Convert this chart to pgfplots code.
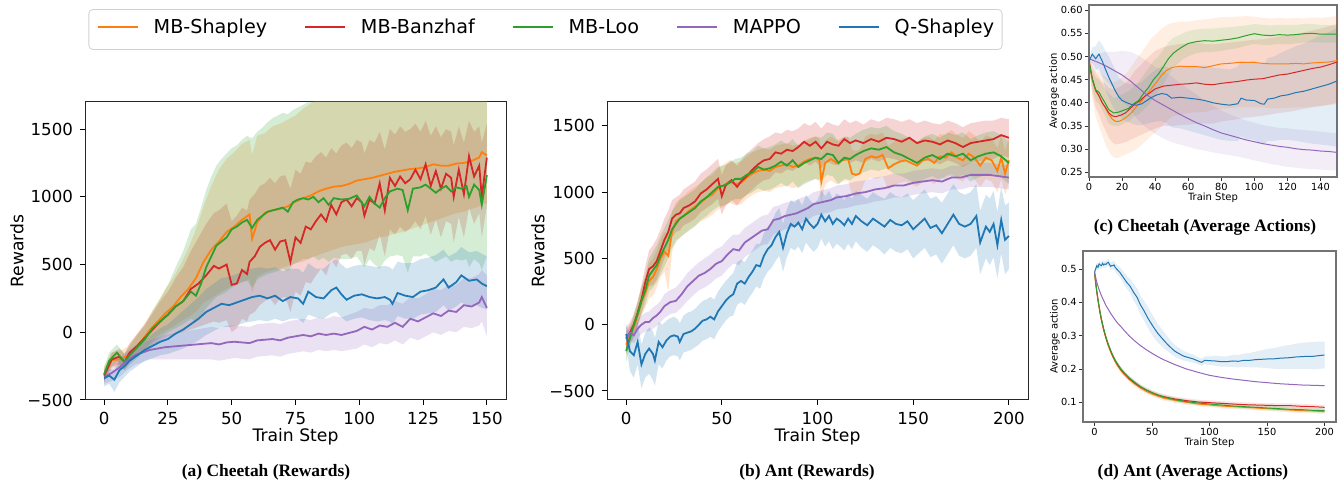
\documentclass[border=0pt]{standalone}
\usepackage{fontspec}
\setmainfont{DejaVu Sans}
\newfontfamily\capfont{Liberation Serif}
\usepackage{pgfplots}
\usepackage{pgfplotstable}
\pgfplotsset{compat=1.18}
\usepgfplotslibrary{fillbetween}

\definecolor{cBl}{HTML}{1F77B4}
\definecolor{cOr}{HTML}{FF7F0E}
\definecolor{cGr}{HTML}{2CA02C}
\definecolor{cRd}{HTML}{D62728}
\definecolor{cPu}{HTML}{9467BD}

% ---------- (a) Cheetah rewards ----------
\pgfplotstableread{
x m lo hi
0 -315 -370 -250
3 -205 -260 -150
6 -200 -260 -140
9 -175 -240 -110
12 -120 -190 -40
15 -55 -140 40
18 20 -80 130
21 80 -30 220
24 140 10 320
27 190 40 400
30 260 80 500
33 320 110 620
36 400 150 760
39 520 220 930
42 610 250 1080
45 670 290 1200
48 740 320 1280
51 780 350 1330
54 830 370 1390
57 870 390 1420
58 690 290 1310
60 810 410 1450
63 880 440 1470
66 900 460 1520
69 910 470 1540
72 930 490 1570
75 965 510 1600
78 990 520 1650
81 1010 550 1690
84 1040 570 1730
87 1060 590 1770
90 1075 610 1800
93 1080 630 1800
96 1095 640 1800
99 1120 650 1800
102 1130 660 1800
105 1140 680 1800
108 1155 700 1800
111 1170 710 1800
114 1185 730 1800
117 1195 740 1800
120 1205 760 1800
123 1210 780 1800
126 1220 800 1800
129 1240 820 1800
132 1230 840 1800
135 1230 860 1800
138 1245 880 1800
141 1250 890 1800
144 1265 910 1800
147 1290 930 1800
148 1330 950 1800
150 1305 950 1800
}\aOr
\pgfplotstableread{
x m lo hi
0 -320 -360 -280
3 -200 -250 -150
6 -180 -240 -120
8 -220 -280 -160
10 -150 -220 -80
13 -100 -180 -10
16 -40 -130 60
19 20 -90 140
22 80 -60 230
25 130 -30 300
28 190 -10 400
31 230 0 480
34 320 20 600
37 360 40 700
40 420 60 800
43 490 80 880
45 470 70 900
48 500 90 950
50 350 0 820
52 360 30 860
54 460 100 920
56 430 80 900
57 520 130 980
59 560 150 1020
61 630 200 1080
63 660 230 1100
65 680 250 1140
67 610 200 1100
69 670 250 1150
71 680 260 1160
73 520 150 1060
75 700 300 1200
77 660 270 1170
79 780 370 1260
81 760 360 1250
83 820 420 1300
85 870 470 1330
87 820 420 1290
89 940 530 1360
91 870 480 1320
93 960 570 1380
95 980 580 1400
97 930 540 1360
99 990 600 1420
101 960 600 1400
102 860 500 1320
104 980 620 1420
106 950 600 1400
108 1100 720 1480
110 900 560 1350
112 1140 760 1500
114 1080 720 1460
116 1150 780 1520
118 1100 740 1480
120 1130 770 1500
122 1200 820 1540
124 1130 760 1480
126 1240 860 1560
128 1080 720 1450
130 1190 830 1520
132 1060 700 1440
134 1170 820 1500
136 1140 800 1480
137 1000 660 1380
139 1200 850 1520
141 1020 700 1400
143 1300 920 1560
145 1150 800 1480
147 1230 880 1520
148 1000 700 1400
150 1290 930 1540
}\aRd
\pgfplotstableread{
x m lo hi
0 -310 -360 -260
2 -210 -270 -150
5 -150 -210 -90
8 -220 -280 -160
10 -170 -240 -100
13 -110 -190 -20
16 -50 -140 50
19 30 -80 160
22 80 -40 250
25 130 0 350
28 190 30 480
31 230 60 600
34 300 100 760
36 270 80 800
38 360 120 920
40 480 180 1050
42 560 220 1150
44 640 260 1230
46 670 280 1280
48 700 300 1320
50 760 330 1360
52 780 350 1380
54 810 370 1420
56 830 380 1450
58 770 330 1430
60 830 390 1480
62 860 410 1510
64 890 430 1550
66 900 440 1580
68 910 450 1600
70 920 470 1620
72 890 450 1610
74 960 500 1640
76 980 520 1660
78 990 540 1680
80 980 540 1700
82 1000 560 1720
84 960 530 1740
86 990 550 1760
88 940 520 1780
90 990 550 1800
93 980 540 1800
96 985 540 1800
99 1010 560 1800
102 930 480 1800
104 1000 540 1800
106 950 500 1800
108 920 470 1800
110 990 530 1800
112 1040 560 1800
115 1060 570 1800
117 1050 560 1800
119 900 440 1800
121 1060 560 1800
124 1070 560 1800
126 1090 580 1800
128 1060 550 1800
130 1030 520 1800
132 1060 540 1800
134 1080 560 1800
136 1040 520 1800
138 1070 540 1800
140 1060 530 1800
142 1080 540 1800
143 1000 480 1800
145 1090 540 1800
147 1050 510 1800
148 940 460 1800
150 1160 560 1800
}\aGr
\pgfplotstableread{
x m lo hi
0 -340 -400 -290
2 -320 -380 -270
4 -350 -440 -280
6 -280 -370 -210
8 -250 -330 -180
10 -210 -290 -140
13 -170 -250 -100
16 -130 -210 -60
19 -100 -190 -10
22 -70 -170 30
25 -50 -160 60
28 -10 -140 110
31 20 -120 160
34 60 -90 210
37 100 -60 260
40 150 -20 320
43 180 10 360
46 210 40 400
49 200 40 410
52 220 50 430
55 240 70 460
58 260 80 470
61 270 90 480
64 250 80 470
67 270 100 480
70 230 80 450
73 260 100 470
76 250 100 470
78 210 70 440
80 300 130 510
83 260 110 470
86 250 100 470
89 310 140 520
91 330 150 540
93 280 110 500
95 240 80 470
98 270 100 490
101 280 110 500
104 260 90 490
107 250 80 480
110 260 90 490
112 240 80 480
113 210 60 460
115 290 120 520
118 270 100 510
121 260 100 510
124 300 130 540
127 310 140 550
130 330 150 570
133 390 200 610
135 330 160 560
138 370 190 590
140 420 220 630
143 380 190 590
146 390 200 600
148 360 180 580
150 340 170 560
}\aBl
\pgfplotstableread{
x m lo hi
0 -330 -380 -280
3 -300 -360 -240
6 -260 -330 -190
9 -210 -280 -140
12 -170 -240 -100
15 -150 -220 -80
18 -130 -200 -60
21 -120 -200 -40
24 -110 -200 -20
27 -105 -200 -10
30 -100 -200 0
33 -95 -200 10
36 -90 -200 20
39 -85 -200 30
42 -80 -200 40
45 -90 -210 30
48 -75 -200 50
51 -70 -190 50
54 -75 -195 45
57 -80 -200 40
60 -60 -180 60
63 -55 -175 65
66 -50 -170 70
69 -60 -180 60
72 -40 -160 80
75 -30 -150 90
78 -20 -140 100
81 -30 -150 90
84 -10 -130 110
87 -20 -140 100
90 -10 -130 120
93 -20 -140 110
96 -5 -130 130
99 10 -120 150
102 40 -90 180
105 20 -110 170
108 50 -80 200
111 40 -90 200
114 70 -60 230
117 40 -90 210
120 100 -40 260
123 80 -60 250
126 110 -30 280
129 140 0 320
132 120 -20 310
135 160 10 350
138 150 0 350
141 200 40 400
144 190 30 400
147 220 50 430
148 260 80 460
150 180 -30 420
}\aPu

% ---------- (b) Ant rewards ----------
\pgfplotstableread{
x m lo hi
0 -100 -180 -20
2 -60 -130 20
4 0 -70 80
6 90 0 180
8 190 90 300
10 320 200 440
12 420 290 560
14 440 300 600
16 480 340 650
18 560 420 720
20 640 500 800
22 700 560 860
24 800 660 940
26 830 700 960
28 840 710 980
30 880 750 1020
33 900 770 1050
36 930 800 1080
39 990 850 1140
42 1020 880 1170
45 1060 910 1210
48 1100 950 1250
50 970 830 1130
52 1050 900 1200
55 1090 940 1240
58 1040 900 1200
60 1080 940 1240
63 1120 980 1290
66 1170 1020 1330
69 1210 1060 1370
72 1240 1090 1400
75 1250 1100 1420
78 1300 1150 1450
81 1290 1140 1440
84 1320 1170 1470
87 1310 1160 1460
90 1340 1190 1480
93 1380 1230 1520
96 1350 1200 1500
99 1380 1230 1530
102 1330 1180 1480
105 1380 1230 1530
108 1360 1210 1510
111 1350 1200 1500
114 1400 1250 1550
117 1370 1220 1520
120 1390 1240 1540
124 1370 1220 1510
128 1400 1250 1550
132 1380 1230 1530
136 1410 1260 1560
140 1400 1250 1550
144 1380 1230 1530
148 1410 1260 1550
152 1370 1220 1520
156 1390 1240 1540
160 1380 1230 1520
164 1360 1210 1510
168 1390 1240 1540
172 1370 1220 1520
176 1340 1190 1490
180 1370 1220 1520
184 1380 1230 1530
188 1390 1240 1540
192 1400 1250 1540
196 1430 1280 1560
200 1410 1260 1550
}\bRd
\pgfplotstableread{
x m lo hi
0 -200 -280 -120
2 -100 -170 -30
4 0 -80 80
6 80 0 170
8 180 80 280
10 260 150 380
12 370 250 500
14 410 280 550
16 450 320 600
18 520 380 670
20 580 440 730
22 640 500 790
24 720 580 860
26 760 620 900
28 800 660 940
30 820 680 960
33 850 710 990
36 880 740 1020
39 930 790 1070
42 960 820 1110
45 1000 860 1150
48 1040 890 1190
51 1050 900 1200
54 1070 920 1220
57 1100 950 1250
60 1100 950 1260
63 1130 980 1290
66 1150 1000 1310
69 1190 1030 1350
72 1170 1010 1330
75 1180 1020 1340
78 1200 1040 1360
81 1230 1070 1390
84 1200 1040 1360
87 1240 1080 1400
90 1190 1030 1350
93 1220 1060 1380
96 1240 1080 1400
99 1260 1100 1420
102 1250 1090 1410
105 1290 1130 1450
108 1280 1120 1440
111 1220 1060 1380
114 1260 1100 1420
117 1250 1090 1410
120 1280 1120 1440
124 1310 1150 1470
128 1330 1170 1490
132 1320 1160 1480
136 1340 1180 1500
140 1300 1140 1460
144 1280 1120 1440
148 1250 1090 1410
152 1220 1060 1380
156 1260 1100 1420
160 1280 1120 1440
164 1250 1090 1410
168 1290 1130 1450
172 1270 1110 1430
176 1290 1130 1450
180 1240 1080 1400
184 1270 1110 1430
188 1290 1130 1450
192 1300 1140 1460
196 1270 1110 1430
200 1220 1060 1380
}\bGr
\pgfplotstableread{
x m lo hi
0 -150 -230 -70
2 -80 -150 -10
4 -20 -100 60
6 70 -20 160
8 170 70 280
10 240 130 360
12 330 200 460
14 360 220 500
16 420 280 560
18 500 360 640
20 550 400 700
22 520 250 680
24 700 550 850
26 780 640 920
28 800 650 950
30 820 680 970
33 860 720 1010
36 890 750 1040
39 920 780 1070
42 960 800 1110
45 980 830 1130
48 1030 870 1180
51 1050 890 1210
54 1080 920 1240
57 1060 900 1220
60 1070 910 1230
63 1110 950 1270
66 1140 980 1300
69 1160 1000 1320
72 1170 1010 1330
75 1160 1000 1320
78 1190 1030 1350
81 1200 1040 1360
84 1210 1050 1370
87 1190 1030 1350
90 1200 1040 1360
93 1230 1070 1390
96 1250 1090 1410
99 1260 1100 1420
101 1240 1080 1400
102 1080 920 1280
104 1220 1060 1390
107 1250 1090 1420
110 1220 1060 1390
113 1240 1080 1410
116 1250 1090 1420
118 1140 980 1320
120 1130 970 1310
122 1140 980 1320
125 1250 1090 1420
128 1270 1110 1440
131 1260 1100 1430
134 1280 1120 1450
137 1180 1020 1350
140 1210 1050 1380
143 1230 1070 1400
146 1240 1080 1410
149 1220 1060 1390
152 1200 1040 1370
155 1240 1080 1410
158 1250 1090 1420
161 1220 1060 1390
164 1270 1110 1440
167 1260 1100 1430
170 1300 1140 1470
173 1260 1100 1430
176 1240 1080 1410
179 1290 1130 1460
182 1260 1100 1430
185 1200 1040 1370
188 1260 1100 1430
191 1240 1080 1410
194 1160 1000 1330
196 1260 1100 1430
198 1140 980 1310
200 1240 1080 1410
}\bOr
\pgfplotstableread{
x m lo hi
0 -110 -170 -50
2 -60 -120 0
4 -80 -140 -20
6 -30 -100 40
8 0 -70 70
10 20 -50 90
12 20 -50 100
14 50 -30 130
16 70 -10 150
18 100 20 180
20 140 50 230
23 170 80 260
26 180 90 280
29 230 130 330
32 290 180 390
35 330 220 430
38 370 260 470
41 390 280 500
44 420 310 530
47 460 350 570
50 480 370 590
53 530 420 640
56 570 460 680
59 560 450 680
62 620 510 730
65 650 540 760
68 680 570 790
71 710 600 820
74 720 610 830
77 790 680 890
80 800 700 900
83 820 720 920
86 830 730 930
89 840 740 940
92 860 770 960
95 880 790 970
98 910 820 1000
101 920 830 1010
104 930 840 1020
107 940 850 1030
110 960 870 1050
115 970 880 1060
120 990 900 1080
125 1000 910 1090
130 1020 930 1110
135 1030 940 1120
140 1050 960 1140
145 1050 960 1140
150 1070 980 1160
155 1080 990 1170
160 1090 1000 1180
165 1080 990 1170
170 1110 1020 1200
175 1110 1020 1200
180 1130 1040 1220
185 1130 1040 1220
190 1130 1040 1220
195 1120 1030 1210
200 1110 1020 1200
}\bPu
\pgfplotstableread{
x m lo hi
0 -70 -150 0
2 -200 -350 -60
4 -230 -400 -80
6 -130 -300 20
8 -300 -480 -150
10 -220 -400 -60
12 -180 -370 -20
14 -220 -420 -50
15 -270 -460 -100
17 -130 -300 20
19 -170 -330 0
21 -120 -270 30
23 -90 -240 50
25 -80 -230 60
27 -90 -240 40
28 -130 -270 10
30 -70 -210 70
32 -60 -200 90
34 -50 -190 100
36 -30 -170 120
38 0 -150 150
40 30 -120 180
42 40 -110 190
44 60 -90 210
46 40 -110 190
48 100 -50 250
50 140 -10 290
52 180 30 330
54 210 60 360
56 230 70 390
58 310 150 470
60 330 170 490
62 310 150 470
64 360 200 520
66 400 240 560
68 450 290 610
70 440 270 610
72 520 350 690
74 570 400 740
76 600 430 770
78 660 480 840
80 700 520 880
82 580 400 760
84 690 510 870
86 760 580 940
88 740 560 920
90 770 590 950
92 720 540 900
94 800 620 980
96 760 580 940
98 730 550 910
100 760 580 940
102 830 650 1010
104 780 590 970
106 820 630 1010
108 760 570 950
110 800 610 990
112 780 590 970
114 750 560 940
116 800 610 990
118 760 570 950
120 820 630 1010
123 780 580 980
126 750 550 950
129 800 600 1000
132 770 570 970
135 740 530 950
138 790 580 1000
141 760 550 970
144 750 540 960
147 780 570 990
150 720 500 940
153 760 540 980
156 800 580 1020
159 730 510 950
162 750 530 970
165 690 460 920
168 760 530 990
171 830 600 1060
174 760 520 1000
177 740 500 980
180 760 520 1000
183 820 580 1060
185 620 380 860
188 740 500 980
190 700 450 950
192 760 510 1010
194 600 350 850
196 790 540 1040
198 640 380 900
200 670 420 920
}\bBl

% ---------- (c) Cheetah average action ----------
\pgfplotstableread{
x m lo hi
0 0.490 0.485 0.495
2 0.450 0.430 0.470
4 0.428 0.405 0.455
6 0.423 0.398 0.450
8 0.410 0.385 0.440
10 0.398 0.370 0.430
12 0.385 0.355 0.420
15 0.378 0.350 0.410
18 0.380 0.350 0.415
21 0.384 0.355 0.420
24 0.388 0.360 0.425
27 0.398 0.370 0.435
30 0.405 0.375 0.445
33 0.420 0.385 0.460
36 0.433 0.395 0.475
39 0.450 0.410 0.490
42 0.462 0.425 0.500
45 0.478 0.440 0.515
48 0.495 0.460 0.530
51 0.507 0.475 0.540
54 0.515 0.485 0.545
57 0.522 0.495 0.550
60 0.528 0.500 0.555
65 0.532 0.507 0.558
70 0.534 0.510 0.560
75 0.533 0.510 0.560
80 0.535 0.512 0.562
85 0.537 0.515 0.563
90 0.540 0.518 0.565
95 0.545 0.523 0.567
100 0.549 0.527 0.570
105 0.546 0.525 0.568
110 0.545 0.525 0.567
115 0.547 0.527 0.568
120 0.546 0.526 0.568
125 0.547 0.528 0.568
130 0.549 0.530 0.570
135 0.550 0.531 0.570
140 0.548 0.530 0.568
145 0.548 0.530 0.568
150 0.548 0.530 0.567
}\cGr
\pgfplotstableread{
x m lo hi
0 0.490 0.485 0.495
2 0.450 0.410 0.480
4 0.425 0.370 0.470
6 0.415 0.350 0.465
8 0.400 0.330 0.460
10 0.388 0.310 0.455
12 0.375 0.295 0.450
14 0.365 0.285 0.445
16 0.360 0.280 0.445
18 0.360 0.282 0.450
20 0.363 0.285 0.455
23 0.370 0.290 0.465
26 0.380 0.295 0.480
29 0.393 0.300 0.495
32 0.405 0.310 0.510
35 0.418 0.320 0.525
38 0.432 0.330 0.540
41 0.445 0.340 0.550
44 0.460 0.350 0.560
47 0.470 0.360 0.568
50 0.476 0.370 0.572
55 0.479 0.375 0.575
60 0.478 0.378 0.575
65 0.478 0.380 0.578
70 0.476 0.380 0.580
75 0.480 0.385 0.582
80 0.484 0.387 0.585
85 0.485 0.388 0.585
90 0.487 0.390 0.586
95 0.487 0.390 0.587
100 0.487 0.390 0.586
105 0.485 0.390 0.583
110 0.484 0.388 0.582
115 0.484 0.388 0.583
120 0.484 0.389 0.582
125 0.485 0.390 0.583
130 0.484 0.390 0.582
135 0.486 0.392 0.584
140 0.487 0.393 0.583
145 0.488 0.395 0.585
150 0.491 0.397 0.587
}\cOr
\pgfplotstableread{
x m lo hi
0 0.490 0.485 0.495
2 0.452 0.420 0.480
4 0.428 0.390 0.465
6 0.415 0.375 0.455
8 0.400 0.355 0.445
10 0.390 0.340 0.440
12 0.378 0.325 0.432
14 0.372 0.315 0.430
16 0.370 0.310 0.430
19 0.373 0.312 0.435
22 0.378 0.315 0.442
25 0.388 0.320 0.455
28 0.398 0.325 0.470
31 0.405 0.330 0.480
34 0.415 0.335 0.492
37 0.422 0.340 0.502
40 0.430 0.345 0.512
45 0.436 0.350 0.520
50 0.438 0.350 0.524
55 0.440 0.352 0.527
60 0.441 0.353 0.528
65 0.443 0.355 0.530
70 0.440 0.355 0.527
75 0.439 0.355 0.526
80 0.442 0.360 0.528
85 0.444 0.362 0.530
90 0.446 0.365 0.532
95 0.449 0.368 0.534
100 0.451 0.370 0.536
105 0.452 0.372 0.537
110 0.456 0.375 0.540
115 0.460 0.378 0.543
120 0.462 0.380 0.545
125 0.466 0.383 0.548
130 0.470 0.387 0.552
135 0.474 0.390 0.556
140 0.477 0.393 0.560
145 0.482 0.396 0.565
150 0.488 0.400 0.570
}\cRd
\pgfplotstableread{
x m lo hi
0 0.490 0.485 0.495
2 0.505 0.485 0.520
4 0.495 0.470 0.522
6 0.505 0.475 0.535
8 0.490 0.455 0.525
10 0.472 0.430 0.512
12 0.455 0.410 0.500
14 0.440 0.395 0.485
16 0.425 0.382 0.470
18 0.413 0.372 0.455
20 0.405 0.365 0.447
23 0.400 0.360 0.442
26 0.396 0.355 0.440
29 0.395 0.352 0.440
32 0.398 0.352 0.445
35 0.405 0.355 0.455
38 0.412 0.358 0.465
41 0.417 0.360 0.472
44 0.420 0.360 0.478
47 0.418 0.356 0.478
50 0.410 0.347 0.472
55 0.412 0.345 0.478
60 0.410 0.340 0.480
65 0.408 0.335 0.480
70 0.405 0.330 0.480
75 0.400 0.325 0.476
80 0.397 0.320 0.474
85 0.395 0.318 0.472
90 0.398 0.318 0.478
92 0.410 0.328 0.490
95 0.406 0.322 0.488
100 0.405 0.320 0.490
104 0.398 0.312 0.484
106 0.397 0.310 0.484
108 0.408 0.318 0.496
112 0.410 0.318 0.500
116 0.415 0.320 0.508
120 0.417 0.320 0.514
125 0.422 0.318 0.522
130 0.425 0.315 0.528
135 0.430 0.312 0.536
140 0.435 0.310 0.545
145 0.440 0.308 0.552
150 0.447 0.305 0.562
}\cBl
\pgfplotstableread{
x m lo hi
0 0.495 0.492 0.498
5 0.488 0.470 0.505
10 0.480 0.450 0.510
15 0.470 0.430 0.510
20 0.460 0.405 0.512
25 0.447 0.385 0.510
30 0.432 0.362 0.502
35 0.417 0.345 0.490
40 0.405 0.333 0.478
45 0.395 0.323 0.468
50 0.385 0.315 0.457
55 0.375 0.310 0.442
60 0.366 0.305 0.430
65 0.357 0.300 0.418
70 0.350 0.297 0.405
75 0.342 0.293 0.394
80 0.335 0.290 0.384
85 0.330 0.287 0.375
90 0.325 0.284 0.368
95 0.320 0.280 0.362
100 0.316 0.276 0.357
105 0.312 0.272 0.352
110 0.309 0.268 0.349
115 0.306 0.265 0.346
120 0.304 0.262 0.345
125 0.301 0.260 0.343
130 0.299 0.258 0.341
135 0.298 0.257 0.340
140 0.296 0.256 0.338
145 0.295 0.255 0.336
150 0.293 0.254 0.334
}\cPu

% ---------- (d) Ant average action ----------
\pgfplotstableread{
x r rl rh g gl gh o ol oh p
0 0.490 0.486 0.494 0.490 0.486 0.494 0.488 0.484 0.492 0.490
1 0.460 0.455 0.465 0.461 0.456 0.466 0.458 0.452 0.464 0.475
2 0.432 0.426 0.438 0.433 0.427 0.439 0.430 0.423 0.437 0.460
3 0.408 0.401 0.415 0.409 0.402 0.416 0.406 0.398 0.414 0.449
4 0.386 0.379 0.393 0.388 0.381 0.395 0.384 0.376 0.392 0.438
5 0.366 0.359 0.373 0.368 0.361 0.375 0.364 0.356 0.372 0.429
6 0.348 0.341 0.355 0.350 0.343 0.357 0.346 0.338 0.354 0.420
8 0.318 0.311 0.325 0.320 0.313 0.327 0.316 0.308 0.324 0.405
10 0.293 0.286 0.300 0.295 0.288 0.302 0.291 0.283 0.299 0.390
12 0.272 0.265 0.279 0.274 0.267 0.281 0.270 0.262 0.278 0.379
14 0.254 0.247 0.261 0.256 0.249 0.263 0.252 0.244 0.260 0.367
16 0.238 0.231 0.245 0.240 0.233 0.247 0.236 0.228 0.244 0.357
18 0.225 0.218 0.232 0.226 0.219 0.233 0.222 0.214 0.230 0.347
20 0.213 0.206 0.220 0.215 0.208 0.222 0.210 0.202 0.218 0.338
23 0.198 0.191 0.205 0.200 0.193 0.207 0.195 0.187 0.203 0.327
26 0.186 0.179 0.193 0.188 0.181 0.195 0.183 0.175 0.191 0.315
30 0.172 0.165 0.179 0.174 0.167 0.181 0.169 0.161 0.177 0.300
35 0.158 0.151 0.165 0.160 0.153 0.167 0.155 0.147 0.163 0.284
40 0.146 0.139 0.153 0.147 0.140 0.154 0.143 0.135 0.151 0.270
45 0.137 0.130 0.144 0.137 0.130 0.144 0.133 0.125 0.141 0.258
50 0.129 0.122 0.136 0.129 0.122 0.136 0.125 0.117 0.133 0.247
55 0.122 0.115 0.129 0.122 0.115 0.129 0.119 0.111 0.127 0.237
60 0.117 0.110 0.124 0.116 0.109 0.123 0.113 0.105 0.121 0.228
70 0.110 0.103 0.117 0.108 0.101 0.115 0.106 0.098 0.114 0.213
80 0.105 0.098 0.112 0.102 0.095 0.109 0.100 0.093 0.107 0.200
90 0.101 0.094 0.108 0.098 0.091 0.105 0.095 0.088 0.102 0.190
100 0.099 0.092 0.106 0.095 0.088 0.102 0.092 0.085 0.099 0.181
110 0.097 0.090 0.104 0.092 0.085 0.099 0.089 0.082 0.096 0.175
120 0.095 0.088 0.102 0.089 0.082 0.096 0.087 0.080 0.094 0.170
130 0.093 0.086 0.100 0.087 0.080 0.094 0.085 0.078 0.092 0.166
140 0.092 0.085 0.099 0.085 0.078 0.092 0.083 0.076 0.090 0.162
150 0.091 0.084 0.098 0.083 0.076 0.090 0.081 0.074 0.088 0.159
160 0.090 0.083 0.097 0.081 0.074 0.088 0.079 0.072 0.086 0.156
170 0.090 0.083 0.097 0.079 0.072 0.086 0.077 0.070 0.084 0.154
180 0.088 0.081 0.095 0.078 0.071 0.085 0.075 0.068 0.082 0.152
190 0.087 0.080 0.094 0.076 0.069 0.083 0.074 0.067 0.081 0.151
200 0.085 0.078 0.092 0.075 0.068 0.082 0.072 0.065 0.079 0.150
}\dAll
\pgfplotstableread{
x m lo hi
0 0.490 0.485 0.495
1 0.500 0.492 0.508
2 0.510 0.500 0.520
3 0.505 0.495 0.515
4 0.515 0.505 0.525
5 0.512 0.502 0.522
6 0.510 0.500 0.520
7 0.517 0.507 0.527
8 0.512 0.502 0.522
9 0.515 0.505 0.525
10 0.514 0.504 0.524
11 0.518 0.508 0.528
12 0.520 0.510 0.532
13 0.514 0.503 0.526
14 0.508 0.497 0.520
15 0.510 0.498 0.522
16 0.510 0.498 0.523
17 0.512 0.500 0.525
18 0.505 0.492 0.518
20 0.497 0.483 0.512
22 0.490 0.475 0.506
25 0.475 0.458 0.493
28 0.460 0.441 0.480
31 0.448 0.428 0.470
34 0.430 0.405 0.455
37 0.415 0.388 0.442
40 0.392 0.363 0.420
43 0.375 0.345 0.405
46 0.355 0.325 0.388
49 0.338 0.308 0.370
52 0.322 0.292 0.353
55 0.307 0.280 0.335
58 0.295 0.270 0.322
61 0.283 0.260 0.308
64 0.272 0.252 0.295
67 0.262 0.244 0.282
70 0.253 0.237 0.272
74 0.245 0.230 0.262
78 0.238 0.225 0.253
82 0.234 0.222 0.248
86 0.230 0.219 0.243
90 0.224 0.214 0.236
93 0.220 0.210 0.231
96 0.226 0.214 0.238
100 0.225 0.212 0.238
105 0.224 0.210 0.240
110 0.222 0.207 0.238
115 0.222 0.207 0.238
120 0.224 0.206 0.242
125 0.223 0.205 0.242
130 0.226 0.206 0.246
135 0.226 0.205 0.248
140 0.228 0.205 0.252
145 0.229 0.204 0.256
150 0.230 0.203 0.260
155 0.230 0.201 0.262
160 0.232 0.200 0.266
165 0.233 0.200 0.270
170 0.234 0.200 0.272
175 0.236 0.200 0.276
180 0.237 0.200 0.278
185 0.238 0.200 0.280
190 0.238 0.199 0.281
195 0.240 0.200 0.282
200 0.242 0.202 0.282
}\dBl

% band: id, table, upper col, lower col, colour, opacity
\newcommand{\band}[6]{%
  \addplot[draw=none, name path=u#1, forget plot] table[x=x,y=#3]{#2};
  \addplot[draw=none, name path=l#1, forget plot] table[x=x,y=#4]{#2};
  \addplot[fill=#5, fill opacity=#6, draw=none, forget plot] fill between[of=u#1 and l#1];
}
% legend sample: a short line in the given colour
\newcommand{\samp}[1]{\tikz[baseline=-3.4pt]\draw[draw=#1, line width=0.9pt] (0pt,0pt) -- (20pt,0pt);}

\pgfplotsset{
  big/.style={
    scale only axis, width=210.5pt, height=149pt,
    axis line style={black!85, line width=0.5pt},
    tick align=outside, xtick pos=bottom, ytick pos=left,
    major tick length=2.5pt, tick style={black, line width=0.5pt},
    tick label style={font=\fontsize{8.3}{9}\selectfont},
    label style={font=\fontsize{8.6}{10}\selectfont, inner sep=0pt},
    /pgf/number format/assume math mode=true,
    ymin=-500, ytick={-500,0,500,1000,1500},
    yticklabels={−500,0,500,1000,1500},
    xlabel={Train Step}, ylabel={Rewards},
    xlabel style={at={(axis description cs:0.5,-0.124)}, anchor=center},
  },
  small/.style={
    scale only axis,
    axis line style={black!55, line width=0.8pt},
    tick align=outside, xtick pos=bottom, ytick pos=left,
    major tick length=2pt, tick style={black!80, line width=0.4pt},
    tick label style={font=\fontsize{4.9}{6}\selectfont, inner sep=1pt},
    label style={font=\fontsize{5}{6}\selectfont, inner sep=0pt},
    /pgf/number format/assume math mode=true,
    xlabel={Train Step}, ylabel={Average action},
  },
  ln/.style={line width=0.9pt},
  sl/.style={line width=0.5pt},
}

\begin{document}
\begin{tikzpicture}

% (a)
\begin{axis}[big, at={(42.5pt,42.5pt)}, anchor=south west,
  xmin=-7.5, xmax=157.5, ymax=1700,
  xtick={0,25,50,75,100,125,150},
  ylabel style={at={(axis description cs:-0.1615,0.5)}, anchor=center},
]
\band{aor}{\aOr}{hi}{lo}{cOr}{0.2}
\band{ard}{\aRd}{hi}{lo}{cRd}{0.2}
\band{agr}{\aGr}{hi}{lo}{cGr}{0.2}
\band{apu}{\aPu}{hi}{lo}{cPu}{0.2}
\band{abl}{\aBl}{hi}{lo}{cBl}{0.2}
\addplot[cOr, ln] table[x=x,y=m]{\aOr};
\addplot[cRd, ln] table[x=x,y=m]{\aRd};
\addplot[cGr, ln] table[x=x,y=m]{\aGr};
\addplot[cPu, ln] table[x=x,y=m]{\aPu};
\addplot[cBl, ln] table[x=x,y=m]{\aBl};
\end{axis}

% shared legend across the top
\node[draw=black!18, rounded corners=2pt, inner xsep=4pt, inner ysep=4.5pt,
  font=\fontsize{9.6}{11}\selectfont] at (272.75pt,227.75pt)
  {\samp{cOr}\hspace{7.5pt}MB-Shapley\hspace{18.5pt}%
   \samp{cRd}\hspace{7.5pt}MB-Banzhaf\hspace{18.5pt}%
   \samp{cGr}\hspace{7.5pt}MB-Loo\hspace{18.5pt}%
   \samp{cPu}\hspace{7.5pt}MAPPO\hspace{18.5pt}%
   \samp{cBl}\hspace{7.5pt}Q-Shapley\strut};

% (b)
\begin{axis}[big, at={(303.5pt,42.5pt)}, anchor=south west,
  xmin=-10, xmax=210, ymin=-568, ymax=1680,
  xtick={0,50,100,150,200},
  ylabel style={at={(axis description cs:-0.164,0.5)}, anchor=center},
]
\band{bor}{\bOr}{hi}{lo}{cOr}{0.2}
\band{brd}{\bRd}{hi}{lo}{cRd}{0.2}
\band{bgr}{\bGr}{hi}{lo}{cGr}{0.2}
\band{bpu}{\bPu}{hi}{lo}{cPu}{0.2}
\band{bbl}{\bBl}{hi}{lo}{cBl}{0.2}
\addplot[cOr, ln] table[x=x,y=m]{\bOr};
\addplot[cRd, ln] table[x=x,y=m]{\bRd};
\addplot[cGr, ln] table[x=x,y=m]{\bGr};
\addplot[cPu, ln] table[x=x,y=m]{\bPu};
\addplot[cBl, ln] table[x=x,y=m]{\bBl};
\end{axis}

% (c)
\begin{axis}[small, at={(544.5pt,154pt)}, anchor=south west,
  width=124pt, height=86pt,
  xmin=0, xmax=150, ymin=0.240, ymax=0.611,
  xtick={0,20,40,60,80,100,120,140},
  ytick={0.25,0.30,0.35,0.40,0.45,0.50,0.55,0.60},
  yticklabels={0.25,0.30,0.35,0.40,0.45,0.50,0.55,0.60},
  xlabel style={at={(axis description cs:0.5,-0.122)}, anchor=center},
  ylabel style={at={(axis description cs:-0.141,0.5)}, anchor=center},
]
\band{cor}{\cOr}{hi}{lo}{cOr}{0.12}
\band{crd}{\cRd}{hi}{lo}{cRd}{0.12}
\band{cgr}{\cGr}{hi}{lo}{cGr}{0.12}
\band{cpu}{\cPu}{hi}{lo}{cPu}{0.12}
\band{cbl}{\cBl}{hi}{lo}{cBl}{0.12}
\addplot[cOr, sl] table[x=x,y=m]{\cOr};
\addplot[cRd, sl] table[x=x,y=m]{\cRd};
\addplot[cGr, sl] table[x=x,y=m]{\cGr};
\addplot[cPu, sl] table[x=x,y=m]{\cPu};
\addplot[cBl, sl] table[x=x,y=m]{\cBl};
\end{axis}

% (d)
\begin{axis}[small, at={(541.5pt,31.5pt)}, anchor=south west,
  width=126.5pt, height=85.5pt,
  xmin=-10, xmax=210, ymin=0.041, ymax=0.554,
  xtick={0,50,100,150,200},
  ytick={0.1,0.2,0.3,0.4,0.5},
  yticklabels={0.1,0.2,0.3,0.4,0.5},
  xlabel style={at={(axis description cs:0.5,-0.123)}, anchor=center},
  ylabel style={at={(axis description cs:-0.111,0.5)}, anchor=center},
]
\band{dor}{\dAll}{oh}{ol}{cOr}{0.12}
\band{drd}{\dAll}{rh}{rl}{cRd}{0.12}
\band{dgr}{\dAll}{gh}{gl}{cGr}{0.12}
\band{dbl}{\dBl}{hi}{lo}{cBl}{0.12}
\addplot[cOr, sl] table[x=x,y=o]{\dAll};
\addplot[cRd, sl] table[x=x,y=r]{\dAll};
\addplot[cGr, sl] table[x=x,y=g]{\dAll};
\addplot[cPu, sl] table[x=x,y=p]{\dAll};
\addplot[cBl, sl] table[x=x,y=m]{\dBl};
\end{axis}

\node[font=\capfont\bfseries\fontsize{8.7}{10}\selectfont] at (133pt,6.5pt) {(a) Cheetah (Rewards)};
\node[font=\capfont\bfseries\fontsize{8.7}{10}\selectfont] at (403.5pt,6.5pt) {(b) Ant (Rewards)};
\node[font=\capfont\bfseries\fontsize{8.7}{10}\selectfont] at (602.5pt,129pt) {(c) Cheetah (Average Actions)};
\node[font=\capfont\bfseries\fontsize{8.7}{10}\selectfont] at (596.5pt,6.5pt) {(d) Ant (Average Actions)};

\pgfresetboundingbox
\path[use as bounding box] (0,0) rectangle (671.5pt,242.5pt);
\end{tikzpicture}
\end{document}
